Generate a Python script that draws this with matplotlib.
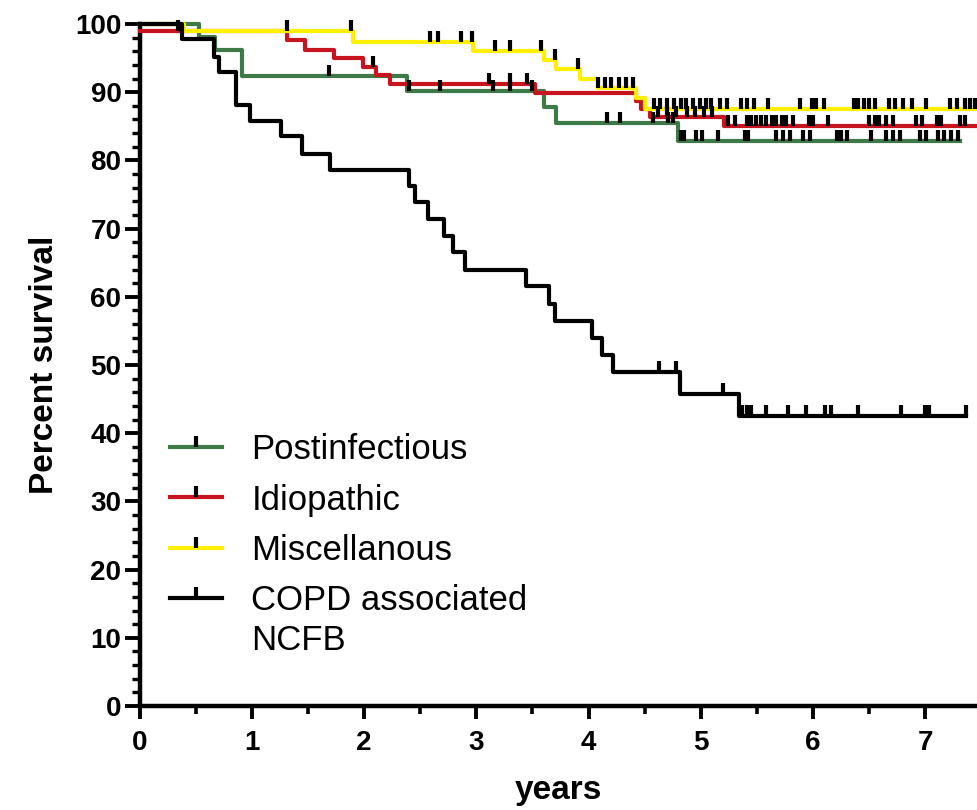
import matplotlib
matplotlib.use("Agg")
import matplotlib.pyplot as plt
from matplotlib.lines import Line2D
import numpy as np

plt.rcParams['font.family'] = ['Liberation Sans', 'DejaVu Sans']

# Kaplan-Meier steps: event times (years) and % survival after each step
post_t = [0, 0.53, 0.67, 0.91, 2.38, 3.60, 3.71, 4.80]
post_s = [100, 98.1, 96.2, 92.3, 90.2, 87.8, 85.5, 82.8]
post_end = 7.31
post_cens = [1.69, 2.40, 2.68, 3.15, 3.30, 3.50, 4.16, 4.28, 4.57, 4.71, 4.75,
             4.82, 4.85, 4.96, 5.01, 5.15, 5.39, 5.42, 5.67, 5.73, 5.79, 5.91,
             5.97, 6.21, 6.25, 6.30, 6.52, 6.65, 6.71, 6.77, 6.95, 7.01, 7.11,
             7.17, 7.23, 7.29]

idio_t = [0, 1.31, 1.47, 1.73, 1.99, 2.11, 2.23, 3.52, 4.42, 4.47, 4.55, 5.21]
idio_s = [98.9, 97.6, 96.2, 95.0, 93.7, 92.5, 91.2, 89.9, 88.7, 87.5, 86.3, 85.1]
idio_end = 7.5
idio_cens = [0.34, 2.08, 3.11, 3.30, 3.45, 4.62, 4.70, 4.78, 4.88, 4.95, 5.03,
             5.10, 5.24, 5.30, 5.41, 5.45, 5.49, 5.54, 5.58, 5.63, 5.67, 5.72,
             5.76, 5.82, 5.96, 6.00, 6.13, 6.50, 6.55, 6.59, 6.65, 6.71, 6.92,
             6.97, 7.10, 7.14, 7.31, 7.35]

misc_t = [0, 0.40, 1.90, 2.97, 3.60, 3.71, 3.92, 4.08, 4.42, 4.50]
misc_s = [100, 98.9, 97.4, 96.0, 94.7, 93.4, 92.0, 90.6, 89.1, 87.6]
misc_end = 7.5
misc_cens = [1.31, 1.88, 2.59, 2.66, 2.86, 2.96, 3.17, 3.30, 3.58, 3.70, 3.91,
             4.08, 4.15, 4.20, 4.27, 4.33, 4.40, 4.58, 4.64, 4.70, 4.76, 4.82,
             4.87, 4.93, 4.99, 5.05, 5.09, 5.17, 5.23, 5.36, 5.41, 5.47, 5.60,
             5.88, 5.99, 6.03, 6.10, 6.36, 6.40, 6.45, 6.50, 6.55, 6.68, 6.73,
             6.80, 6.88, 7.01, 7.22, 7.28, 7.35, 7.40, 7.44]

copd_t = [0, 0.38, 0.66, 0.71, 0.86, 0.98, 1.26, 1.45, 1.70, 2.40, 2.45, 2.57,
          2.71, 2.79, 2.90, 3.44, 3.65, 3.70, 4.03, 4.12, 4.22, 4.81, 5.34]
copd_s = [100, 97.8, 95.2, 92.9, 88.1, 85.8, 83.6, 81.0, 78.6, 76.3, 73.9, 71.4,
          68.9, 66.5, 64.0, 61.6, 59.0, 56.5, 53.9, 51.5, 48.9, 45.7, 42.5]
copd_end = 7.36
copd_cens = [4.63, 4.78, 5.20, 5.37, 5.41, 5.45, 5.58, 5.78, 5.94, 6.11, 6.16,
             6.40, 6.78, 7.00, 7.03, 7.36]

labels = ["Postinfectious", "Idiopathic", "Miscellanous", "COPD associated"]
label_extra = "NCFB"
colors = ["#3d7a48", "#c8141e", "#fff000", "black"]

groups = [(post_t, post_s, post_end, post_cens),
          (idio_t, idio_s, idio_end, idio_cens),
          (misc_t, misc_s, misc_end, misc_cens),
          (copd_t, copd_s, copd_end, copd_cens)]

fig = plt.figure(figsize=(9.77, 8.10), dpi=100)
ax = fig.add_axes([0.1428, 0.1284, 0.8572, 0.842])

for (t, s, end, cens), c in zip(groups, colors):
    x = list(t) + [end]
    y = list(s) + [s[-1]]
    ax.step(x, y, where="post", color=c, lw=3, clip_on=False, zorder=3)
    # censor marks sit on the curve value at that time
    idx = np.searchsorted(t, cens, side="right") - 1
    cy = np.array(s)[idx]
    ax.plot(cens, cy, ls="none", marker=2, ms=8, mew=3, color="black",
            clip_on=False, zorder=4)

ax.set_xlim(0, 7.46)
ax.set_ylim(0, 100)
ax.set_xticks(range(0, 8))
ax.set_xticks(np.arange(0.5, 7.5, 1.0), minor=True)
ax.set_yticks(range(0, 101, 10))
ax.set_yticks(range(0, 101, 2), minor=True)

for sp in ["top", "right"]:
    ax.spines[sp].set_visible(False)
for sp in ["left", "bottom"]:
    ax.spines[sp].set_linewidth(3.2)

ax.tick_params(axis="x", which="major", length=9, width=2.8, pad=8, labelsize=20)
ax.tick_params(axis="x", which="minor", length=6, width=2.6)
ax.tick_params(axis="y", which="major", length=11, width=2.8, pad=2, labelsize=20)
ax.tick_params(axis="y", which="minor", length=6, width=2.4)
for lab in ax.get_xticklabels() + ax.get_yticklabels():
    lab.set_fontweight("bold")

ax.set_xlabel("years", fontsize=24, fontweight="bold", labelpad=14)
ax.set_ylabel("Percent survival", fontsize=24, fontweight="bold", labelpad=11)

handles = [Line2D([], [], color=c, lw=3, marker=2, ms=8, mew=3, mec="black")
           for c in colors]
leg = ax.legend(handles, labels, loc="upper left", bbox_to_anchor=(0.036, 0.40),
                frameon=False, fontsize=25, handlelength=1.5, handletextpad=0.85,
                labelspacing=0.5, borderpad=0, borderaxespad=0, numpoints=1)

# second line of the last label, placed under "COPD associated"
fig.canvas.draw()
bb = leg.get_texts()[-1].get_window_extent().transformed(fig.transFigure.inverted())
fig.text(bb.x0, bb.y0 - 0.008, label_extra, fontsize=25, ha="left", va="top")

fig.savefig("out.png", dpi=100)
